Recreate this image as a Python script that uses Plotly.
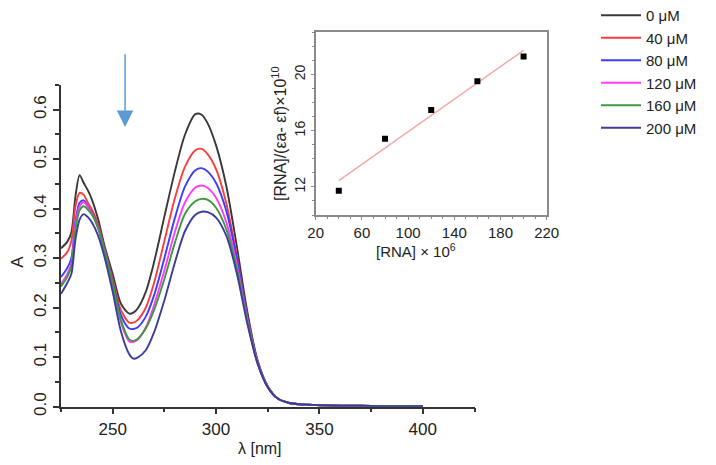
import numpy as np
import plotly.graph_objects as go

# ---------------- data ----------------
wavelength = [225, 228, 230, 232, 234, 236, 238, 240, 243, 246, 250, 254, 258, 260, 262, 266,
              270, 275, 280, 285, 290, 293, 296, 300, 305, 310, 315, 320, 325, 330, 335,
              340, 345, 350, 360, 370, 380, 390, 400]

tail = [0.016, 0.008, 0.005, 0.004, 0.003, 0.002, 0.002, 0.001, 0.001, 0.001]

a_0 = [0.320, 0.333, 0.352, 0.425, 0.468, 0.452, 0.437, 0.418, 0.378, 0.326, 0.268, 0.208, 0.188, 0.190,
       0.198, 0.232, 0.292, 0.384, 0.474, 0.550, 0.591, 0.590, 0.572, 0.528, 0.445, 0.325, 0.195,
       0.095, 0.042] + tail
a_40 = [0.299, 0.312, 0.335, 0.405, 0.432, 0.428, 0.412, 0.398, 0.368, 0.320, 0.258, 0.195, 0.170, 0.170,
        0.175, 0.200, 0.250, 0.335, 0.420, 0.485, 0.518, 0.521, 0.510, 0.480, 0.410, 0.305, 0.185,
        0.093, 0.041] + tail
a_80 = [0.262, 0.280, 0.300, 0.375, 0.412, 0.417, 0.405, 0.392, 0.362, 0.318, 0.252, 0.185, 0.158, 0.157,
        0.160, 0.182, 0.225, 0.300, 0.380, 0.445, 0.478, 0.482, 0.475, 0.452, 0.395, 0.300, 0.183,
        0.092, 0.040] + tail
a_120 = [0.248, 0.268, 0.290, 0.368, 0.405, 0.413, 0.403, 0.390, 0.360, 0.315, 0.245, 0.170, 0.132, 0.131,
         0.135, 0.160, 0.205, 0.275, 0.352, 0.413, 0.443, 0.447, 0.442, 0.422, 0.372, 0.288, 0.178,
         0.090, 0.040] + tail
a_160 = [0.243, 0.262, 0.283, 0.358, 0.397, 0.405, 0.398, 0.388, 0.360, 0.316, 0.248, 0.175, 0.136, 0.133,
         0.137, 0.158, 0.195, 0.258, 0.330, 0.390, 0.415, 0.420, 0.418, 0.402, 0.358, 0.280, 0.175,
         0.089, 0.040] + tail
a_200 = [0.228, 0.250, 0.268, 0.338, 0.378, 0.389, 0.383, 0.372, 0.345, 0.303, 0.232, 0.152, 0.106, 0.097,
         0.099, 0.114, 0.150, 0.215, 0.290, 0.355, 0.388, 0.394, 0.393, 0.382, 0.345, 0.270, 0.170,
         0.088, 0.039] + tail

series_names = ["0 μM", "40 μM", "80 μM", "120 μM", "160 μM", "200 μM"]
series_values = [a_0, a_40, a_80, a_120, a_160, a_200]
series_colors = ["#383838", "#ff3c3c", "#3c3cff", "#ff3cff", "#3c9a3c", "#3c3c9a"]

# inset data
rna_conc = [40, 80, 120, 160, 200]
rna_ratio = [11.72, 15.42, 17.47, 19.52, 21.27]

main_xticks = [250, 300, 350, 400]

# ---------------- figure ----------------
FONT = "Liberation Sans, Arial, sans-serif"
fig = go.Figure()

for name, vals, col in zip(series_names, series_values, series_colors):
    fig.add_trace(go.Scatter(
        x=wavelength, y=vals, mode="lines", name=name,
        line=dict(color=col, width=1.9, shape="spline", smoothing=0.8),
        xaxis="x", yaxis="y"))

# inset: points and linear fit
coef = np.polyfit(rna_conc, rna_ratio, 1)
fit_x = [rna_conc[0], rna_conc[-1]]
fit_y = list(np.polyval(coef, fit_x))
fig.add_trace(go.Scatter(x=fit_x, y=fit_y, mode="lines", showlegend=False,
                         line=dict(color="#f5a8a8", width=1.5), xaxis="x2", yaxis="y2"))
fig.add_trace(go.Scatter(x=rna_conc, y=rna_ratio, mode="markers", showlegend=False,
                         marker=dict(symbol="square", size=6, color="black"),
                         xaxis="x2", yaxis="y2"))

# page body has an 8px margin: figure is 700x449 placed at (8, 8)
OFF = 8
W, H = 716 - 2 * OFF, 465 - 2 * OFF
def px_x(p):
    return (p - OFF) / W
def px_y(p):
    return 1 - (p - OFF) / H

fig.update_layout(
    width=W, height=H,
    margin=dict(l=0, r=0, t=0, b=0, autoexpand=False),
    paper_bgcolor="white", plot_bgcolor="rgba(0,0,0,0)",
    font=dict(family=FONT, color="#222"),
    xaxis=dict(domain=[px_x(61), px_x(474.5)], range=[225, 425], anchor="y", automargin=False,
               showline=True, linecolor="#333", linewidth=1.5,
               ticks="outside", ticklen=6, tickwidth=1.5, tickcolor="#333",
               tickvals=main_xticks, showgrid=False, zeroline=False,
               minor=dict(dtick=25, tick0=0, ticks="outside", ticklen=4, tickwidth=1.5, tickcolor="#333"),
               tickfont=dict(size=17, family=FONT, color="#222")),
    yaxis=dict(domain=[px_y(406.7), px_y(85)], range=[0, 0.65], anchor="x", automargin=False,
               showline=True, linecolor="#333", linewidth=1.5,
               ticks="outside", ticklen=6, tickwidth=1.5, tickcolor="#333",
               dtick=0.1, tick0=0, tickformat=".1f", tickangle=-90,
               showgrid=False, zeroline=False,
               minor=dict(dtick=0.05, tick0=0, ticks="outside", ticklen=4, tickwidth=1.5, tickcolor="#333"),
               tickfont=dict(size=17, family=FONT, color="#222")),
    xaxis2=dict(domain=[px_x(315.7), px_x(546.7)], range=[20, 220], anchor="y2", automargin=False,
                showline=True, mirror=True, linecolor="#8a8a8a", linewidth=1.5,
                ticks="outside", ticklen=3, tickwidth=1.2, tickcolor="#8a8a8a",
                dtick=40, tick0=20, showgrid=False, zeroline=False,
                minor=dict(dtick=10, tick0=20, ticks="outside", ticklen=2, tickwidth=1, tickcolor="#8a8a8a"),
                tickfont=dict(size=15, family=FONT, color="#222")),
    yaxis2=dict(domain=[px_y(215), px_y(32.3)], range=[10, 23], anchor="x2", automargin=False,
                showline=True, mirror=True, linecolor="#8a8a8a", linewidth=1.5,
                ticks="outside", ticklen=3, tickwidth=1.2, tickcolor="#8a8a8a",
                dtick=4, tick0=0, tickangle=-90, showgrid=False, zeroline=False,
                minor=dict(dtick=1, tick0=0, ticks="outside", ticklen=2, tickwidth=1, tickcolor="#8a8a8a"),
                tickfont=dict(size=14, family=FONT, color="#222")),
    legend=dict(x=px_x(596), y=1.02, xanchor="left", yanchor="top",
                bgcolor="rgba(0,0,0,0)", borderwidth=0, itemwidth=40,
                font=dict(size=15, family=FONT, color="#222"),
                tracegroupgap=0),
    showlegend=True,
)

annotations = [
    dict(text="λ [nm]", x=px_x(260), y=px_y(448), xref="paper", yref="paper",
         xanchor="center", yanchor="middle",
         showarrow=False, font=dict(size=16, family=FONT, color="#222")),
    dict(text="A", x=px_x(16.7), y=px_y(262), xref="paper", yref="paper", textangle=-90,
         xanchor="center", yanchor="middle",
         showarrow=False, font=dict(size=17, family=FONT, color="#222")),
    dict(text="[RNA] × 10<sup>6</sup>", x=px_x(416), y=px_y(250), xref="paper", yref="paper",
         xanchor="center", yanchor="middle",
         showarrow=False, font=dict(size=15, family=FONT, color="#222")),
    dict(text="[RNA]/(εa- εf)×10<sup>10</sup>", x=px_x(279), y=px_y(134), xref="paper", yref="paper",
         xanchor="center", yanchor="middle",
         textangle=-90, showarrow=False, font=dict(size=16, family=FONT, color="#222")),
    dict(x=256, y=0.565, ax=256, ay=0.715, xref="x", yref="y", axref="x", ayref="y",
         text="", showarrow=True, arrowhead=2, arrowsize=2.2, arrowwidth=1.5,
         arrowcolor="#5b9bd5"),
]
fig.update_layout(annotations=annotations)

fig.write_html("out.html")
